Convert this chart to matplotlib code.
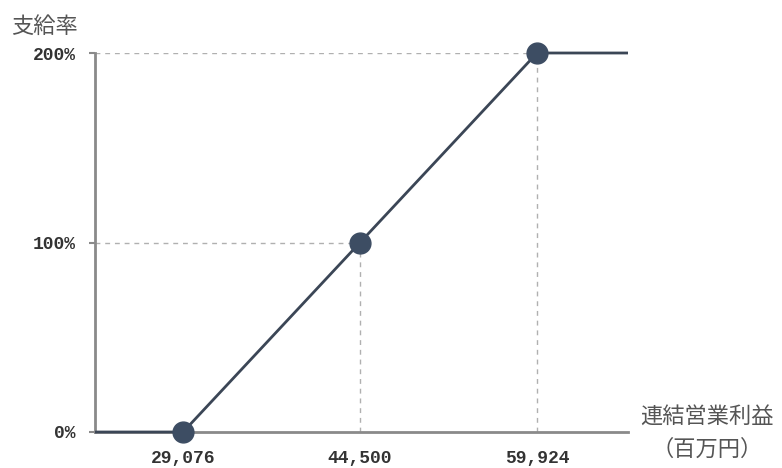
import matplotlib
matplotlib.use("Agg")
import matplotlib.pyplot as plt

plt.rcParams['font.family'] = ['Noto Sans CJK JP', 'DejaVu Sans']

# data
profit = [21400, 29076, 44500, 59924, 67850]
rate = [0, 0, 100, 200, 200]
key_profit = [29076, 44500, 59924]
key_rate = [0, 100, 200]
x_ticklabels = ["29,076", "44,500", "59,924"]
y_ticks = [0, 100, 200]
y_ticklabels = ["0%", "100%", "200%"]

line_color = "#3b4656"
marker_color = "#3d4d63"
axis_color = "#8a8a8a"
grid_color = "#b0b0b0"
text_color = "#555555"

fig = plt.figure(figsize=(7.82, 4.68), dpi=100)
ax = fig.add_axes([95/782, 1-432/468, (628-95)/782, (432-53)/468])

ax.set_xlim(profit[0], profit[-1])
ax.set_ylim(0, 200)

# dashed guides
for px, py in zip(key_profit, key_rate):
    if py > 0:
        ax.plot([profit[0], px], [py, py], ls=(0, (3.5, 3.5)), color=grid_color, lw=1.0, zorder=1)
        ax.plot([px, px], [0, py], ls=(0, (3.5, 3.5)), color=grid_color, lw=1.0, zorder=1)

ax.plot(profit, rate, color=line_color, lw=2.0, zorder=3, clip_on=False, solid_capstyle='butt')
ax.plot(key_profit, key_rate, 'o', ms=15, color=marker_color, zorder=4, clip_on=False)

for s in ['top', 'right']:
    ax.spines[s].set_visible(False)
for s in ['left', 'bottom']:
    ax.spines[s].set_color(axis_color)
    ax.spines[s].set_linewidth(2.0)
ax.spines['bottom'].set_zorder(2)

ax.set_xticks(key_profit)
ax.set_xticklabels(x_ticklabels, fontsize=13, fontweight='bold', color="#333333",
                   family=['Liberation Mono', 'DejaVu Sans Mono'])
ax.set_yticks(y_ticks)
ax.set_yticklabels(y_ticklabels, fontsize=13, fontweight='bold', color="#333333",
                   family=['Liberation Mono', 'DejaVu Sans Mono'])
ax.tick_params(axis='x', length=0, pad=13)
ax.tick_params(axis='y', length=4, width=1.5, color=axis_color, pad=10)

fig.text(11/782, 1-26/468, "支給率", fontsize=16, color=text_color, va='center', ha='left')
fig.text(707/782, 1-416/468, "連結営業利益", fontsize=16, color=text_color, va='center', ha='center')
fig.text(707/782, 1-449/468, "（百万円）", fontsize=16, color=text_color, va='center', ha='center')

fig.savefig("out.png", dpi=100)
